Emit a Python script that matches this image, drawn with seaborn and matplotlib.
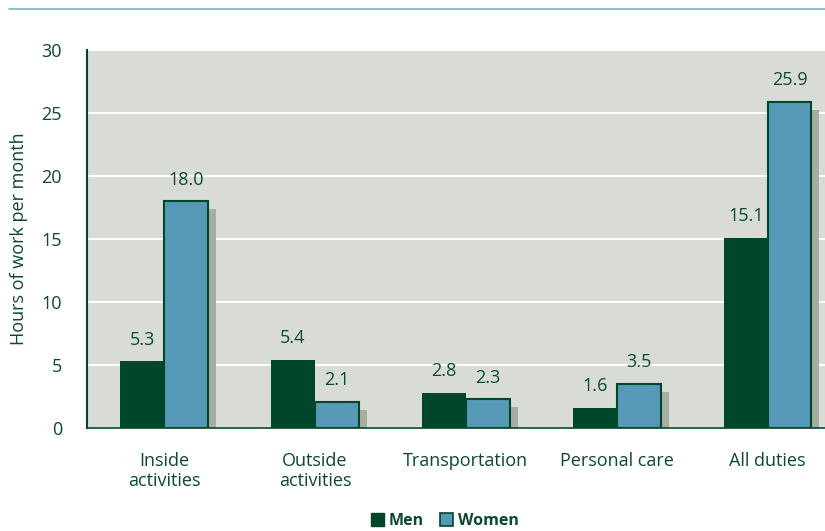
import matplotlib.pyplot as plt
import matplotlib.patheffects as pe
from matplotlib.lines import Line2D
from matplotlib.patches import Patch
import pandas as pd
import seaborn as sns

# Data
categories = ['Inside\nactivities', 'Outside\nactivities', 'Transportation', 'Personal care', 'All duties']
men = [5.3, 5.4, 2.8, 1.6, 15.1]
women = [18.0, 2.1, 2.3, 3.5, 25.9]
y_ticks = [0, 5, 10, 15, 20, 25, 30]

green = '#00472a'
blue = '#5599b6'
txt = '#0b4a2c'

df = pd.DataFrame({
    'cat': categories * 2,
    'sex': ['Men'] * len(categories) + ['Women'] * len(categories),
    'hours': men + women,
})

sns.set_style('white')
plt.rcParams['font.family'] = ['Open Sans', 'DejaVu Sans']

fig = plt.figure(figsize=(8.25, 5.31), dpi=100)
ax = fig.add_axes([0.1055, 0.194, 0.8945, 0.712])
ax.set_facecolor('#d9dbd6')

sns.barplot(data=df, x='cat', y='hours', hue='sex', palette=[green, blue],
            width=0.58, gap=0, saturation=1, ax=ax, legend=False)

men_bars = ax.containers[0]
women_bars = ax.containers[1]
for p in men_bars:
    p.set_edgecolor(green)
    p.set_linewidth(0)
for p in women_bars:
    p.set_edgecolor(green)
    p.set_linewidth(1.5)
    p.set_path_effects([pe.SimplePatchShadow(offset=(5.8, -5.8), shadow_rgbFace='#a6aea2', alpha=1),
                        pe.Normal()])

for c in ax.containers:
    ax.bar_label(c, fmt='%.1f', padding=9, color=txt, fontsize=13)

ax.set_ylim(0, 30)
ax.set_xlim(-0.51, 4.38)
ax.set_yticks(y_ticks)
ax.yaxis.grid(True, color='white', linewidth=1.5)
ax.set_axisbelow(True)
ax.tick_params(axis='y', length=0, pad=18, labelsize=13, labelcolor=txt)
ax.tick_params(axis='x', length=0, pad=17, labelsize=13, labelcolor=txt)

ax.set_xlabel('')
ax.set_ylabel('Hours of work per month', color=txt, fontsize=13, labelpad=10)
for s in ['top', 'right']:
    ax.spines[s].set_visible(False)
ax.spines['left'].set_color(green)
ax.spines['left'].set_linewidth(1.5)
ax.spines['bottom'].set_color(green)
ax.spines['bottom'].set_linewidth(1.2)

# thin rule at the top of the figure
fig.add_artist(Line2D([9 / 825, 1], [1 - 9 / 531, 1 - 9 / 531], color='#7fb0c6', linewidth=1.2))

handles = [Patch(facecolor=green, edgecolor=green), Patch(facecolor=blue, edgecolor=green, linewidth=1.2)]
leg = fig.legend(handles, ['Men', 'Women'], loc='center', bbox_to_anchor=(445 / 825, 1 - 521 / 531),
                 ncol=2, frameon=False, handlelength=0.8, handleheight=0.8, handletextpad=0.3,
                 columnspacing=1.0, prop={'weight': 'bold', 'size': 11.5})
for t in leg.get_texts():
    t.set_color(txt)

fig.savefig('out.png', dpi=100)
